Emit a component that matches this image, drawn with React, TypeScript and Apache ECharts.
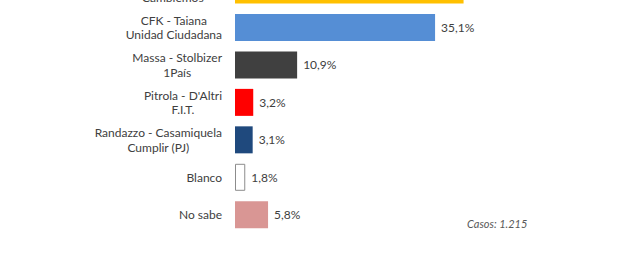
import React, { useEffect, useRef } from "react";
import * as echarts from "echarts";

const categories = [
  "Bullrich - González\nCambiemos",
  "CFK - Taiana\nUnidad Ciudadana",
  "Massa - Stolbizer\n1País",
  "Pitrola - D'Altri\nF.I.T.",
  "Randazzo - Casamiquela\nCumplir (PJ)",
  "Blanco",
  "No sabe",
];
const values = [40.1, 35.1, 10.9, 3.2, 3.1, 1.8, 5.8];
const colors = ["#FFC000", "#558ED5", "#404040", "#FF0000", "#1F497D", "#FFFFFF", "#D99694"];
const casosText = "Casos: 1.215";

const FONT = "Lato";
const SHIFT = 40;

export default function App() {
  const ref = useRef<HTMLDivElement>(null);
  useEffect(() => {
    if (!ref.current) return;
    const chart = echarts.init(ref.current, null, { renderer: "svg" });
    chart.setOption({
      animation: false,
      backgroundColor: "#FFFFFF",
      grid: { left: 235, right: 100, top: SHIFT - 28.75, bottom: 320 - SHIFT - 233.5, containLabel: false },
      xAxis: {
        type: "value",
        min: 0,
        max: 50,
        show: false,
      },
      yAxis: {
        type: "category",
        data: categories,
        inverse: true,
        axisLine: { show: false },
        axisTick: { show: false },
        splitLine: { show: false },
        axisLabel: {
          margin: 13,
          align: "right",
          fontFamily: FONT,
          fontSize: 12,
          color: "#404040",
          lineHeight: 14.5,
          formatter: (v: string) =>
            v
              .split("\n")
              .map((l) => `{c|${l}}`)
              .join("\n"),
          rich: {
            c: {
              align: "center",
              fontFamily: FONT,
              fontSize: 12,
              color: "#404040",
              lineHeight: 14.5,
            },
          },
        },
      },
      series: [
        {
          type: "bar",
          barWidth: 27,
          data: values.map((v, i) => ({
            value: v,
            itemStyle: {
              color: colors[i],
              borderColor: i === 5 ? "#8C8C8C" : colors[i],
              borderWidth: i === 5 ? 1 : 0,
            },
          })),
          label: {
            show: true,
            position: "right",
            distance: 6,
            fontFamily: FONT,
            fontSize: 12,
            color: "#404040",
            formatter: (p: any) => p.value.toFixed(1).replace(".", ",") + "%",
          },
        },
      ],
      graphic: [
        {
          type: "text",
          left: 467,
          top: SHIFT + 218,
          style: {
            text: casosText,
            fontFamily: FONT,
            fontStyle: "italic",
            fontSize: 11,
            fill: "#595959",
          },
        },
      ],
    });
    return () => chart.dispose();
  }, []);
  return (
    <div
      style={{
        position: "fixed",
        left: 0,
        top: 0,
        width: 620,
        height: 264,
        overflow: "hidden",
        background: "#FFFFFF",
      }}
    >
      <div ref={ref} style={{ position: "absolute", left: 0, top: -SHIFT, width: 620, height: 320 }} />
    </div>
  );
}
